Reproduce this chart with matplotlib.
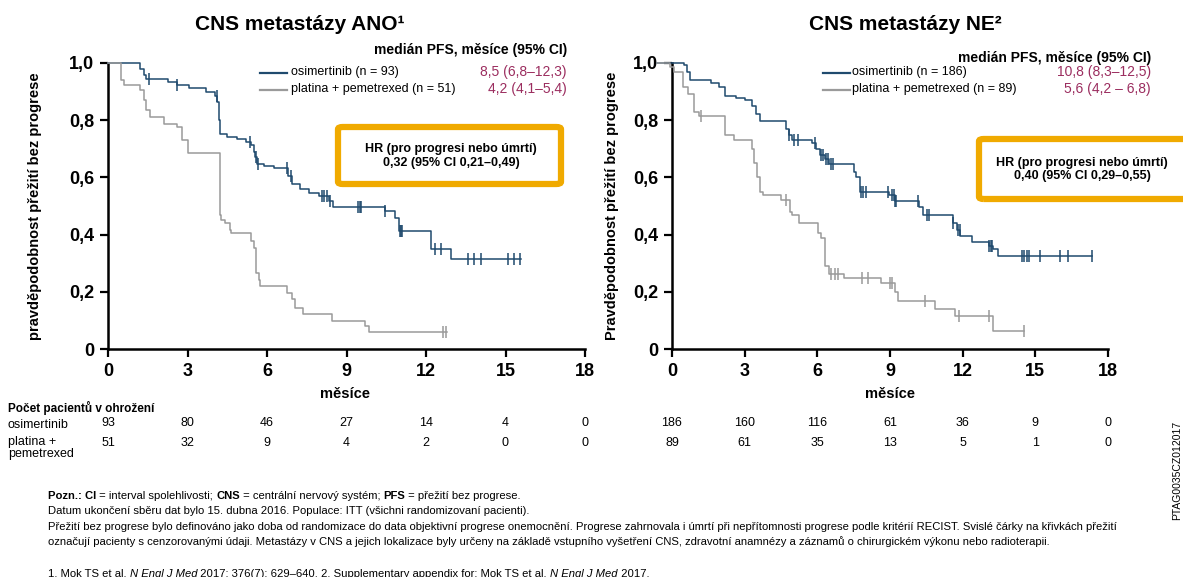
import matplotlib
matplotlib.use('Agg')
import matplotlib.pyplot as plt
import numpy as np
from matplotlib.patches import FancyBboxPatch
from matplotlib.lines import Line2D
from matplotlib.transforms import blended_transform_factory

plt.rcParams['font.family'] = ['Liberation Sans', 'DejaVu Sans']

NAVY = '#1f4a6e'
GRAY = '#9a9a9a'
MAROON = '#9b2d5f'
ORANGE = '#f0aa00'

# --- data -------------------------------------------------------------
# left panel: CNS metastazy ANO
ano_osi_t = [0, 1.19, 1.35, 1.45, 2.25, 2.6, 3.05, 3.7, 4.05, 4.12, 4.18, 4.23, 4.5, 4.85,
             5.2, 5.4, 5.5, 5.55, 5.62, 5.9, 6.25, 6.8, 6.95, 7.25, 7.6, 7.95, 8.35, 8.5,
             10.46, 10.83, 10.97, 12.2, 12.95, 15.6]
ano_osi_s = [1.0, 0.978, 0.957, 0.943, 0.933, 0.922, 0.911, 0.897, 0.884, 0.865, 0.80, 0.752,
             0.741, 0.733, 0.725, 0.714, 0.69, 0.67, 0.648, 0.64, 0.632, 0.604, 0.578, 0.559,
             0.546, 0.535, 0.516, 0.498, 0.481, 0.458, 0.411, 0.348, 0.313, 0.313]
ano_osi_cens = [1.55, 2.62, 4.1, 5.35, 5.58, 5.65, 6.75, 6.9, 8.07, 8.15, 8.25, 8.36, 9.45,
                9.5, 9.55, 10.46, 11.0, 11.05, 11.1, 12.35, 12.57, 13.58, 13.8, 14.09, 15.1,
                15.32, 15.54]
ano_pla_t = [0, 0.5, 0.6, 1.2, 1.35, 1.45, 1.6, 2.1, 2.6, 2.8, 3.0, 4.23, 4.28, 4.4, 4.6, 4.65,
             5.4, 5.5, 5.6, 5.68, 5.75, 6.75, 6.95, 7.05, 7.35, 8.45, 9.7, 9.85, 12.78]
ano_pla_s = [1.0, 0.94, 0.922, 0.905, 0.87, 0.835, 0.81, 0.788, 0.775, 0.73, 0.684, 0.469,
             0.452, 0.44, 0.417, 0.406, 0.377, 0.353, 0.267, 0.243, 0.22, 0.197, 0.174, 0.145,
             0.122, 0.099, 0.081, 0.058, 0.058]
ano_pla_cens = [12.65, 12.75]

# right panel: CNS metastazy NE
ne_osi_t = [-0.6, 0.5, 0.6, 0.75, 1.6, 1.95, 2.2, 2.65, 3.0, 3.3, 3.45, 3.62, 4.7, 4.85, 4.95,
            5.8, 5.95, 6.1, 6.3, 6.5, 7.5, 7.6, 7.75, 8.95, 9.2, 10.2, 10.35, 11.6, 11.75, 11.9,
            12.4, 13.1, 13.25, 13.45, 17.35]
ne_osi_s = [1.0, 0.994, 0.97, 0.94, 0.93, 0.915, 0.885, 0.876, 0.87, 0.85, 0.82, 0.796, 0.77,
            0.75, 0.732, 0.72, 0.70, 0.68, 0.665, 0.648, 0.62, 0.60, 0.55, 0.54, 0.517, 0.498,
            0.47, 0.44, 0.417, 0.395, 0.373, 0.36, 0.348, 0.325, 0.325]
ne_osi_cens = [4.85, 5.05, 5.2, 5.9, 6.15, 6.25, 6.35, 6.45, 6.55, 6.65, 7.8, 7.9, 8.02, 8.93,
               9.1, 9.15, 9.2, 9.25, 10.17, 10.52, 10.6, 11.62, 11.8, 11.87, 13.1, 13.17,
               13.22, 14.44, 14.54, 14.64, 14.74, 15.19, 16.0, 16.36, 17.35]
ne_pla_t = [-0.6, -0.1, 0.1, 0.45, 0.65, 0.9, 1.1, 2.2, 2.55, 3.3, 3.4, 3.5, 3.65, 3.75, 4.49,
            4.87, 4.95, 5.25, 6.02, 6.17, 6.33, 6.48, 7.1, 8.63, 9.2, 9.32, 10.86, 11.68, 13.27,
            14.53]
ne_pla_s = [1.0, 0.985, 0.97, 0.915, 0.89, 0.83, 0.816, 0.747, 0.73, 0.70, 0.65, 0.60, 0.55,
            0.539, 0.521, 0.48, 0.469, 0.44, 0.406, 0.388, 0.29, 0.261, 0.25, 0.232, 0.2, 0.168,
            0.139, 0.116, 0.064, 0.064]
ne_pla_cens = [1.2, 4.72, 6.56, 6.71, 6.87, 7.86, 8.1, 9.0, 9.07, 10.45, 11.85, 13.1, 14.53]

months = [0, 3, 6, 9, 12, 15, 18]
ano_risk_osi = [93, 80, 46, 27, 14, 4, 0]
ano_risk_pla = [51, 32, 9, 4, 2, 0, 0]
ne_risk_osi = [186, 160, 116, 61, 36, 9, 0]
ne_risk_pla = [89, 61, 35, 13, 5, 1, 0]

W, H = 1183, 577


def fx(px):
    return px / W


def fy(py):
    return 1 - py / H


def step_value(t, s, x):
    idx = np.searchsorted(t, x, side='right') - 1
    return np.array(s)[idx]


def draw_curve(ax, t, s, cens, color):
    ax.step(t, s, where='post', color=color, lw=1.1, clip_on=False, zorder=3)
    ax.plot(cens, step_value(t, s, cens), ls='none', marker='|', ms=8, mew=1.1,
            color=color, clip_on=False, zorder=3)


def style_axes(ax, ylabel, ylab_x):
    ax.set_xlim(0, 18)
    ax.set_ylim(0, 1.0)
    ax.set_xticks(months)
    ax.set_xticklabels([str(m) for m in months])
    yt = [0, 0.2, 0.4, 0.6, 0.8, 1.0]
    ax.set_yticks(yt)
    ax.set_yticklabels(['0'] + [f'{v:.1f}'.replace('.', ',') for v in yt[1:]])
    for side in ['top', 'right']:
        ax.spines[side].set_visible(False)
    for side in ['left', 'bottom']:
        ax.spines[side].set_linewidth(1.8)
    ax.tick_params(direction='out', length=6, width=1.6, labelsize=13, pad=4)
    for lab in ax.get_xticklabels() + ax.get_yticklabels():
        lab.set_fontweight('bold')
    fig.text(fx(ylab_x), fy(206), ylabel, rotation=90, ha='center', va='center',
             fontsize=10.5, fontweight='bold')


fig = plt.figure(figsize=(W / 100, H / 100), dpi=100)
ax_l = fig.add_axes([fx(108), fy(349), fx(585 - 108), (349 - 63) / H])
ax_r = fig.add_axes([fx(672), fy(349), fx(1108 - 672), (349 - 63) / H])
ax0 = fig.add_axes([0, 0, 1, 1], zorder=-1)
ax0.axis('off')

draw_curve(ax_l, ano_osi_t, ano_osi_s, ano_osi_cens, NAVY)
draw_curve(ax_l, ano_pla_t, ano_pla_s, ano_pla_cens, GRAY)
draw_curve(ax_r, ne_osi_t, ne_osi_s, ne_osi_cens, NAVY)
draw_curve(ax_r, ne_pla_t, ne_pla_s, ne_pla_cens, GRAY)

style_axes(ax_l, 'pravděpodobnost přežití bez progrese', 35)
style_axes(ax_r, 'Pravděpodobnost přežití bez progrese', 612)

# titles and axis labels
fig.text(fx(300), fy(24), 'CNS metastázy ANO¹', ha='center', va='center', fontsize=15,
         fontweight='bold')
fig.text(fx(905), fy(25), 'CNS metastázy NE²', ha='center', va='center', fontsize=15,
         fontweight='bold')
fig.text(fx(345), fy(394), 'měsíce', ha='center', va='center', fontsize=10.5, fontweight='bold')
fig.text(fx(890), fy(394), 'měsíce', ha='center', va='center', fontsize=10.5, fontweight='bold')

# legends with medians
legends = [
    (567, 260, 291, 'osimertinib (n = 93)', 'platina + pemetrexed (n = 51)',
     '8,5 (6,8–12,3)', '4,2 (4,1–5,4)', 50),
    (1151, 823, 852, 'osimertinib (n = 186)', 'platina + pemetrexed (n = 89)',
     '10,8 (8,3–12,5)', '5,6 (4,2 – 6,8)', 58),
]
for xr, lx, tx, lab1, lab2, med1, med2, hy in legends:
    fig.text(fx(xr), fy(hy), 'medián PFS, měsíce (95% CI)', ha='right', va='center',
             fontsize=10, fontweight='bold')
    for yy, col, lab, med in [(72, NAVY, lab1, med1), (89, GRAY, lab2, med2)]:
        fig.add_artist(Line2D([fx(lx), fx(lx + 27)], [fy(yy + 1), fy(yy + 1)], color=col,
                              lw=1.6))
        fig.text(fx(tx), fy(yy), lab, ha='left', va='center', fontsize=9)
        fig.text(fx(xr), fy(yy), med, ha='right', va='center', fontsize=10, color=MAROON)

# HR boxes
boxes = [(338, 127, 561, 184, 451, '0,32 (95% CI 0,21–0,49)'),
         (979, 139, 1200, 199, 1082, '0,40 (95% CI 0,29–0,55)')]
for x0, y0, x1, y1, cx, hr in boxes:
    fig.add_artist(FancyBboxPatch((fx(x0), fy(y1)), fx(x1 - x0), (y1 - y0) / H,
                                  boxstyle='round,pad=0,rounding_size=0.004', fill=False,
                                  edgecolor=ORANGE, lw=4.5))
    cy = (y0 + y1) / 2
    fig.text(fx(cx), fy(cy - 6.5), 'HR (pro progresi nebo úmrtí)', ha='center', va='center',
             fontsize=9, fontweight='bold')
    fig.text(fx(cx), fy(cy + 7), hr, ha='center', va='center', fontsize=9,
             fontweight='bold')

# number at risk
fig.text(fx(8), fy(408), 'Počet pacientů v ohrožení', ha='left', va='center', fontsize=8.5,
         fontweight='bold')
fig.text(fx(8), fy(425), 'osimertinib', ha='left', va='center', fontsize=9)
fig.text(fx(8), fy(448), 'platina +\npemetrexed', ha='left', va='center', fontsize=9,
         linespacing=0.9)
for ax, r_osi, r_pla in [(ax_l, ano_risk_osi, ano_risk_pla), (ax_r, ne_risk_osi, ne_risk_pla)]:
    tr = blended_transform_factory(ax.transData, fig.transFigure)
    for m, a, b in zip(months, r_osi, r_pla):
        fig.text(m, fy(423), str(a), transform=tr, ha='center', va='center', fontsize=9)
        fig.text(m, fy(443), str(b), transform=tr, ha='center', va='center', fontsize=9)


# footnotes with mixed bold / italic pieces
NARROW = ['Liberation Sans Narrow', 'Liberation Sans', 'DejaVu Sans']


def rich_line(x, y, parts, size=8.1):
    prev = None
    for txt, weight, style in parts:
        kw = dict(fontsize=size, fontweight=weight, fontstyle=style, family=NARROW,
                  va='baseline', ha='left')
        if prev is None:
            prev = ax0.text(fx(x), fy(y), txt, transform=fig.transFigure, **kw)
        else:
            prev = ax0.annotate(txt, xy=(1, fy(y)), xycoords=(prev, 'figure fraction'), **kw)


rich_line(48, 499, [('Pozn.: CI', 'bold', 'normal'), (' = interval spolehlivosti; ', 'normal', 'normal'),
                    ('CNS', 'bold', 'normal'), (' = centrální nervový systém; ', 'normal', 'normal'),
                    ('PFS', 'bold', 'normal'), (' = přežití bez progrese.', 'normal', 'normal')])
rich_line(48, 514, [('Datum ukončení sběru dat bylo 15. dubna 2016. Populace: ITT (všichni '
                     'randomizovaní pacienti).', 'normal', 'normal')])
rich_line(48, 530, [('Přežití bez progrese bylo definováno jako doba od randomizace do data '
                     'objektivní progrese onemocnění. Progrese zahrnovala i úmrtí při '
                     'nepřítomnosti progrese podle kritérií RECIST. Svislé čárky na křivkách '
                     'přežití', 'normal', 'normal')])
rich_line(48, 545, [('označují pacienty s cenzorovanými údaji. Metastázy v CNS a jejich '
                     'lokalizace byly určeny na základě vstupního vyšetření CNS, zdravotní '
                     'anamnézy a záznamů o chirurgickém výkonu nebo radioterapii.',
                     'normal', 'normal')])
rich_line(48, 577, [('1. Mok TS et al. ', 'normal', 'normal'), ('N Engl J Med', 'normal', 'italic'),
                    (' 2017; 376(7): 629–640. 2. Supplementary appendix for: Mok TS et al. ',
                     'normal', 'normal'),
                    ('N Engl J Med', 'normal', 'italic'), (' 2017.', 'normal', 'normal')])

fig.text(fx(1177), fy(470), 'PTAG0035CZ012017', rotation=90, ha='center', va='center',
         fontsize=7.5)

fig.savefig('out.png', dpi=100)
